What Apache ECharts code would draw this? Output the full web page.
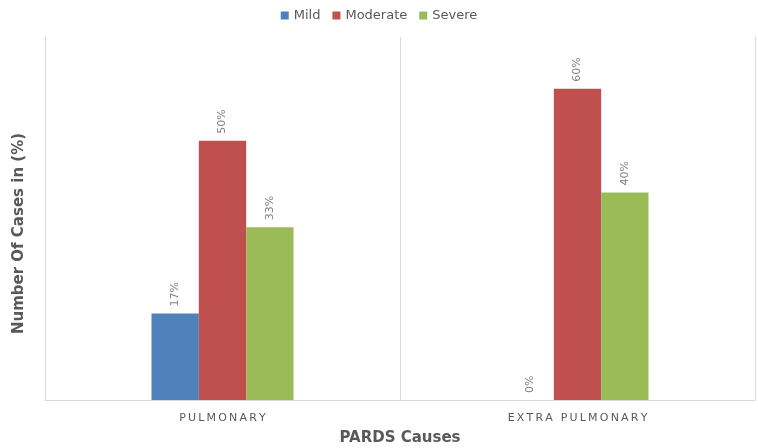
<!DOCTYPE html>
<html>
<head>
<meta charset="utf-8">
<script src="https://cdn.jsdelivr.net/npm/echarts@6/dist/echarts.min.js"></script>
<style>html,body{margin:0;padding:0;background:#fff;}#c{width:758px;height:448px;}</style>
</head>
<body>
<div id="c"></div>
<script>
const categories = ['PULMONARY', 'EXTRA PULMONARY'];
const mild = [16.67, 0];
const moderate = [50, 60];
const severe = [33.33, 40];
const seriesNames = ['Mild', 'Moderate', 'Severe'];
const colors = ['#4f81bd', '#c0504d', '#9bbb59'];

const chart = echarts.init(document.getElementById('c'));
const labelCfg = {
  show: true,
  position: 'top',
  distance: 7,
  rotate: 90,
  align: 'left',
  verticalAlign: 'middle',
  color: '#7f7f7f',
  fontSize: 11,
  fontFamily: 'DejaVu Sans',
  formatter: p => Math.round(p.value) + '%'
};
const mk = (name, data, color) => ({
  name, type: 'bar', data, barGap: '0%', barCategoryGap: '60%',
  itemStyle: { color }, label: labelCfg
});
chart.setOption({
  animation: false,
  textStyle: { fontFamily: 'DejaVu Sans' },
  legend: {
    top: 4, left: 'center', itemWidth: 8, itemHeight: 8, itemGap: 12,
    icon: 'rect',
    textStyle: { color: '#595959', fontSize: 13, fontFamily: 'DejaVu Sans' },
    data: seriesNames
  },
  grid: { left: 45, right: 3, top: 37, bottom: 48, outerBoundsMode: 'none', containLabel: false },
  xAxis: {
    type: 'category', data: categories,
    axisLine: { lineStyle: { color: '#d9d9d9' } },
    axisTick: { show: false },
    splitLine: { show: true, lineStyle: { color: '#d9d9d9' } },
    axisLabel: {
      color: '#595959', fontSize: 11, margin: 13,
      formatter: v => v.split('').join('\u2009')
    },
    name: 'PARDS Causes', nameLocation: 'middle', nameGap: 31,
    nameTextStyle: { color: '#595959', fontSize: 15, fontWeight: 'bold' }
  },
  yAxis: {
    type: 'value', min: 0, max: 70, interval: 10,
    axisLine: { show: true, lineStyle: { color: '#d9d9d9' } },
    axisTick: { show: false },
    axisLabel: { show: false },
    splitLine: { show: false },
    name: 'Number Of Cases in (%)', nameLocation: 'middle', nameGap: 18,
    nameTextStyle: { color: '#595959', fontSize: 15, fontWeight: 'bold', padding: [0, 30, 0, 0] }
  },
  series: [
    mk(seriesNames[0], mild, colors[0]),
    mk(seriesNames[1], moderate, colors[1]),
    mk(seriesNames[2], severe, colors[2])
  ]
});
</script>
</body>
</html>
